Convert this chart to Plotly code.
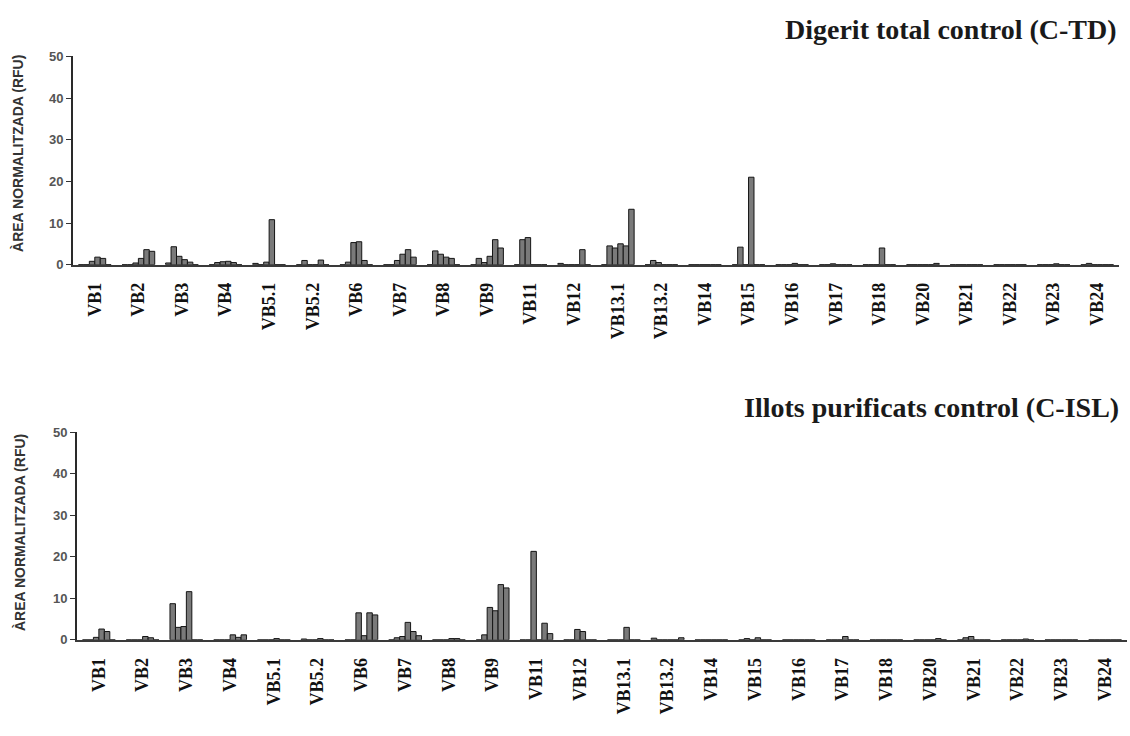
import plotly.graph_objects as go

categories = ["VB1", "VB2", "VB3", "VB4", "VB5.1", "VB5.2", "VB6", "VB7", "VB8", "VB9",
              "VB11", "VB12", "VB13.1", "VB13.2", "VB14", "VB15", "VB16", "VB17", "VB18",
              "VB20", "VB21", "VB22", "VB23", "VB24"]

# Digerit total control (C-TD): peak areas per spectratype position
ctd_p1 = [0, 0, 0.4, 0, 0.3, 0, 0, 0, 0, 0, 0, 0.3, 0, 0, 0, 0, 0, 0, 0, 0, 0, 0, 0, 0]
ctd_p2 = [0, 0, 4.3, 0.5, 0, 1.0, 0.6, 0, 3.3, 1.5, 6.0, 0, 4.5, 1.0, 0, 4.2, 0, 0, 0, 0, 0, 0, 0, 0.3]
ctd_p3 = [0.8, 0.4, 2.0, 0.7, 0.6, 0, 5.3, 1.0, 2.5, 0.5, 6.5, 0, 4.0, 0.5, 0, 0, 0, 0.2, 0, 0, 0, 0, 0, 0]
ctd_p4 = [1.8, 1.5, 1.2, 0.8, 10.8, 0, 5.5, 2.5, 1.8, 2.0, 0, 0, 5.0, 0, 0, 21.0, 0.3, 0, 4.0, 0, 0, 0, 0.2, 0]
ctd_p5 = [1.5, 3.6, 0.6, 0.5, 0, 1.1, 1.0, 3.6, 1.5, 6.0, 0, 3.6, 4.5, 0, 0, 0, 0, 0, 0, 0, 0, 0, 0, 0]
ctd_p6 = [0, 3.2, 0, 0, 0, 0, 0, 1.8, 0, 4.0, 0, 0, 13.3, 0, 0, 0, 0, 0, 0, 0.3, 0, 0, 0, 0]

# Illots purificats control (C-ISL)
isl_p1 = [0, 0, 8.7, 0, 0, 0.2, 0, 0, 0, 0, 0, 0, 0, 0.4, 0, 0, 0, 0, 0, 0, 0, 0, 0, 0]
isl_p2 = [0, 0, 3.0, 0, 0, 0, 0, 0.5, 0, 1.2, 0, 0, 0, 0, 0, 0.3, 0, 0, 0, 0, 0.5, 0, 0, 0]
isl_p3 = [0.6, 0, 3.2, 0, 0, 0, 6.5, 0.8, 0, 7.8, 21.3, 2.5, 0, 0, 0, 0, 0, 0, 0, 0, 0.8, 0, 0, 0]
isl_p4 = [2.6, 0.8, 11.6, 1.2, 0.3, 0.3, 1.0, 4.2, 0.3, 7.0, 0, 2.0, 3.0, 0, 0, 0.5, 0, 0.8, 0, 0, 0, 0, 0, 0]
isl_p5 = [2.0, 0.5, 0, 0.6, 0, 0, 6.5, 2.0, 0.3, 13.3, 4.0, 0, 0, 0, 0, 0, 0, 0, 0, 0.3, 0, 0.2, 0, 0]
isl_p6 = [0, 0, 0, 1.2, 0, 0, 6.0, 1.0, 0, 12.5, 1.5, 0, 0, 0.5, 0, 0, 0, 0, 0, 0, 0, 0, 0, 0]

y_ticks = [0, 10, 20, 30, 40, 50]
title_top = "Digerit total control (C-TD)"
title_bottom = "Illots purificats control (C-ISL)"
y_title = "ÀREA NORMALITZADA (RFU)"

fig = go.Figure()

bar_style = dict(marker=dict(color="#7a7a7a", line=dict(color="#151515", width=1)),
                 showlegend=False, hoverinfo="x+y")

for vals in [ctd_p1, ctd_p2, ctd_p3, ctd_p4, ctd_p5, ctd_p6]:
    fig.add_trace(go.Bar(x=categories, y=vals, xaxis="x", yaxis="y", **bar_style))
for vals in [isl_p1, isl_p2, isl_p3, isl_p4, isl_p5, isl_p6]:
    fig.add_trace(go.Bar(x=categories, y=vals, xaxis="x2", yaxis="y2", **bar_style))

W, H = 1130, 736

def px_x(v):
    return v / W

def px_y(v):
    return (H - v) / H

xaxis_common = dict(
    type="category", showline=True, linecolor="#3a3a3a", linewidth=2,
    ticks="outside", ticklen=9, tickcolor="rgba(0,0,0,0)", tickangle=-90,
    tickfont=dict(family="Liberation Serif", size=18, color="#111111", weight="bold"),
    showgrid=False, zeroline=False, fixedrange=True, layer="above traces",
)
yaxis_common = dict(
    range=[0, 50], tickvals=y_ticks, showline=True, linecolor="#2a2a2a", linewidth=2,
    ticks="outside", ticklen=5, tickwidth=1, tickcolor="#333333",
    tickfont=dict(family="Liberation Sans", size=13, color="#555555", weight="bold"),
    showgrid=False, zeroline=False, fixedrange=True,
)

fig.update_layout(
    width=W, height=H,
    margin=dict(l=0, r=0, t=0, b=0),
    paper_bgcolor="white", plot_bgcolor="white",
    barmode="group", bargap=0.25, bargroupgap=0,
    showlegend=False,
    xaxis=dict(domain=[px_x(73), px_x(1119)], anchor="y", **xaxis_common),
    yaxis=dict(domain=[px_y(263), px_y(50.5)], anchor="x", **yaxis_common),
    xaxis2=dict(domain=[px_x(77), px_x(1127)], anchor="y2", **xaxis_common),
    yaxis2=dict(domain=[px_y(646), px_y(434)], anchor="x2", **yaxis_common),
    annotations=[
        dict(text=title_top, xref="paper", yref="paper", x=px_x(1119), y=px_y(23),
             xanchor="right", yanchor="middle", showarrow=False,
             font=dict(family="Liberation Serif", size=28, color="#1a1a1a", weight="bold")),
        dict(text=title_bottom, xref="paper", yref="paper", x=px_x(1121), y=px_y(409),
             xanchor="right", yanchor="middle", showarrow=False,
             font=dict(family="Liberation Serif", size=28, color="#1a1a1a", weight="bold")),
        dict(text=y_title, xref="paper", yref="paper", x=px_x(18), y=px_y(150),
             xanchor="center", yanchor="middle", showarrow=False, textangle=-90,
             font=dict(family="Liberation Sans", size=14, color="#333333", weight="bold")),
        dict(text=y_title, xref="paper", yref="paper", x=px_x(20), y=px_y(537),
             xanchor="center", yanchor="middle", showarrow=False, textangle=-90,
             font=dict(family="Liberation Sans", size=14, color="#333333", weight="bold")),
    ],
)

fig.write_html("out.html")
